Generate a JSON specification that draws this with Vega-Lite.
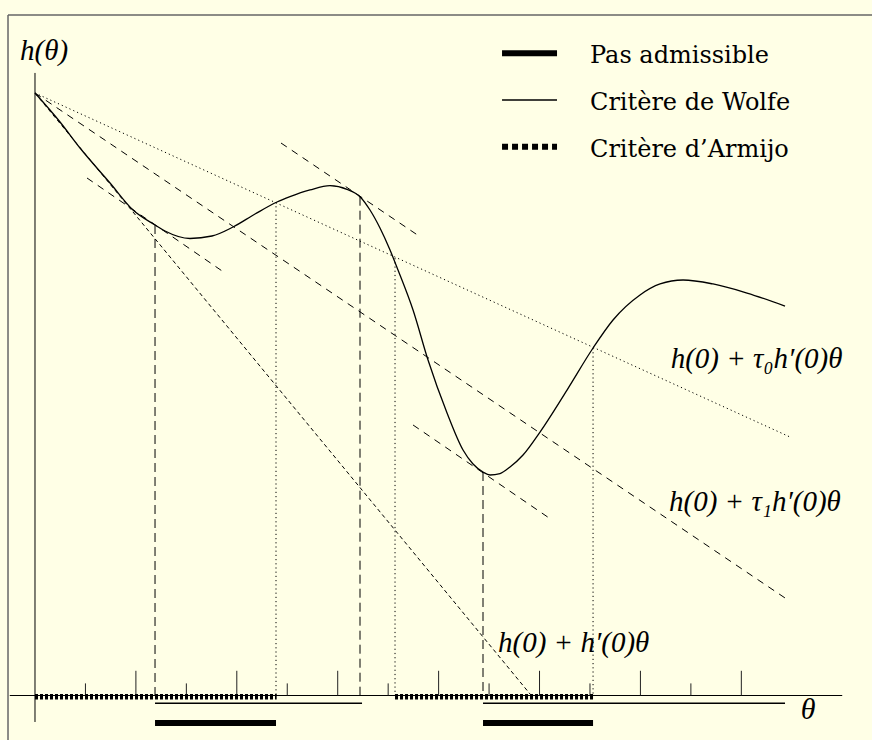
{
  "$schema": "https://vega.github.io/schema/vega-lite/v6.json",
  "width": 872,
  "height": 740,
  "autosize": {"type": "fit", "contains": "padding"},
  "padding": 0,
  "background": "#FFFFE6",
  "config": {"view": {"stroke": null}},
  "layer": [
    {
      "data": {"values": [
        {"x": -0.535, "y": 13.499, "x2": 17.5, "y2": 13.499},
        {"x": -0.535, "y": 13.499, "x2": -0.535, "y2": -1.5}
      ]},
      "mark": {"type": "rule", "color": "#666666", "strokeWidth": 1.5, "clip": true},
      "encoding": {
        "x": {"field": "x", "type": "quantitative", "axis": null, "scale": {"domain": [-0.6937, 16.59], "nice": false, "zero": false}},
        "y": {"field": "y", "type": "quantitative", "axis": null, "scale": {"domain": [-0.872, 13.796], "nice": false, "zero": false}},
        "x2": {"field": "x2"},
        "y2": {"field": "y2"}
      }
    },
    {
      "data": {"values": [
        {"x": -0.5, "y": 0.01, "x2": 16.0, "y2": 0.01},
        {"x": 0, "y": 12.35, "x2": 0, "y2": -0.515}
      ]},
      "mark": {"type": "rule", "color": "#000000", "strokeWidth": 1},
      "encoding": {
        "x": {"field": "x", "type": "quantitative", "axis": null, "scale": {"domain": [-0.6937, 16.59], "nice": false, "zero": false}},
        "y": {"field": "y", "type": "quantitative", "axis": null, "scale": {"domain": [-0.872, 13.796], "nice": false, "zero": false}},
        "x2": {"field": "x2"},
        "y2": {"field": "y2"}
      }
    },
    {
      "data": {"values": [
        {"t": 1, "b": 0.01, "len": 0.25}, {"t": 2, "b": 0.01, "len": 0.5}, {"t": 3, "b": 0.01, "len": 0.25}, {"t": 4, "b": 0.01, "len": 0.5},
        {"t": 5, "b": 0.01, "len": 0.25}, {"t": 6, "b": 0.01, "len": 0.5}, {"t": 7, "b": 0.01, "len": 0.25}, {"t": 8, "b": 0.01, "len": 0.5},
        {"t": 9, "b": 0.01, "len": 0.25}, {"t": 10, "b": 0.01, "len": 0.5}, {"t": 11, "b": 0.01, "len": 0.25}, {"t": 12, "b": 0.01, "len": 0.5},
        {"t": 13, "b": 0.01, "len": 0.25}, {"t": 14, "b": 0.01, "len": 0.5}
      ]},
      "mark": {"type": "rule", "color": "#222222", "strokeWidth": 1},
      "encoding": {
        "x": {"field": "t", "type": "quantitative", "axis": null, "scale": {"domain": [-0.6937, 16.59], "nice": false, "zero": false}},
        "y": {"field": "b", "type": "quantitative", "axis": null, "scale": {"domain": [-0.872, 13.796], "nice": false, "zero": false}},
        "y2": {"field": "len"}
      }
    },
    {
      "data": {"values": [
        {"t": 0, "h": 11.952}, {"t": 0.496, "h": 11.378}, {"t": 0.892, "h": 10.862},
        {"t": 1.487, "h": 10.169}, {"t": 1.943, "h": 9.633}, {"t": 2.379, "h": 9.336},
        {"t": 2.577, "h": 9.217}, {"t": 3.072, "h": 9.069}, {"t": 3.508, "h": 9.118},
        {"t": 3.925, "h": 9.296}, {"t": 4.361, "h": 9.554}, {"t": 4.797, "h": 9.792},
        {"t": 5.054, "h": 9.897}, {"t": 5.451, "h": 10.03}, {"t": 5.847, "h": 10.115},
        {"t": 6.184, "h": 10.044}, {"t": 6.442, "h": 9.897}, {"t": 6.64, "h": 9.633},
        {"t": 6.838, "h": 9.276}, {"t": 7.037, "h": 8.84}, {"t": 7.195, "h": 8.444},
        {"t": 7.493, "h": 7.651}, {"t": 7.79, "h": 6.66}, {"t": 8.167, "h": 5.61},
        {"t": 8.484, "h": 4.876}, {"t": 8.682, "h": 4.599}, {"t": 8.88, "h": 4.44},
        {"t": 9.019, "h": 4.381}, {"t": 9.217, "h": 4.41}, {"t": 9.415, "h": 4.539},
        {"t": 9.673, "h": 4.777}, {"t": 10.01, "h": 5.233}, {"t": 10.545, "h": 6.065},
        {"t": 11.061, "h": 6.898}, {"t": 11.457, "h": 7.453}, {"t": 11.992, "h": 7.949},
        {"t": 12.389, "h": 8.167}, {"t": 12.845, "h": 8.246}, {"t": 13.439, "h": 8.167},
        {"t": 14.113, "h": 7.988}, {"t": 14.866, "h": 7.73}
      ]},
      "mark": {"type": "line", "color": "#000000", "strokeWidth": 1.3, "interpolate": "monotone"},
      "encoding": {
        "x": {"field": "t", "type": "quantitative", "axis": null, "scale": {"domain": [-0.6937, 16.59], "nice": false, "zero": false}},
        "y": {"field": "h", "type": "quantitative", "axis": null, "scale": {"domain": [-0.872, 13.796], "nice": false, "zero": false}}
      }
    },
    {
      "data": {"values": [
        {"x": 0, "y": 11.952, "x2": 14.965, "y2": 5.134},
        {"x": 4.777, "y": 9.792, "x2": 4.777, "y2": 0},
        {"x": 7.136, "y": 8.68, "x2": 7.136, "y2": 0},
        {"x": 11.061, "y": 6.898, "x2": 11.061, "y2": 0}
      ]},
      "mark": {"type": "rule", "color": "#000000", "strokeWidth": 1, "strokeDash": [1.2, 3]},
      "encoding": {
        "x": {"field": "x", "type": "quantitative", "axis": null, "scale": {"domain": [-0.6937, 16.59], "nice": false, "zero": false}},
        "y": {"field": "y", "type": "quantitative", "axis": null, "scale": {"domain": [-0.872, 13.796], "nice": false, "zero": false}},
        "x2": {"field": "x2"},
        "y2": {"field": "y2"}
      }
    },
    {
      "data": {"values": [
        {"x": 0, "y": 11.952, "x2": 14.926, "y2": 1.903},
        {"x": 1.031, "y": 10.268, "x2": 3.766, "y2": 8.385},
        {"x": 4.876, "y": 10.961, "x2": 7.611, "y2": 9.118},
        {"x": 7.493, "y": 5.372, "x2": 10.248, "y2": 3.489}
      ]},
      "mark": {"type": "rule", "color": "#000000", "strokeWidth": 1, "strokeDash": [7, 6]},
      "encoding": {
        "x": {"field": "x", "type": "quantitative", "axis": null, "scale": {"domain": [-0.6937, 16.59], "nice": false, "zero": false}},
        "y": {"field": "y", "type": "quantitative", "axis": null, "scale": {"domain": [-0.872, 13.796], "nice": false, "zero": false}},
        "x2": {"field": "x2"},
        "y2": {"field": "y2"}
      }
    },
    {
      "data": {"values": [
        {"x": 2.379, "y": 9.336, "y2": 0},
        {"x": 6.442, "y": 9.897, "y2": 0},
        {"x": 8.88, "y": 4.44, "y2": 0}
      ]},
      "mark": {"type": "rule", "color": "#000000", "strokeWidth": 1, "strokeDash": [9, 5]},
      "encoding": {
        "x": {"field": "x", "type": "quantitative", "axis": null, "scale": {"domain": [-0.6937, 16.59], "nice": false, "zero": false}},
        "y": {"field": "y", "type": "quantitative", "axis": null, "scale": {"domain": [-0.872, 13.796], "nice": false, "zero": false}},
        "y2": {"field": "y2"}
      }
    },
    {
      "data": {"values": [
        {"x": 0, "y": 11.952, "x2": 9.812, "y2": 0.04}
      ]},
      "mark": {"type": "rule", "color": "#000000", "strokeWidth": 1, "strokeDash": [4, 3]},
      "encoding": {
        "x": {"field": "x", "type": "quantitative", "axis": null, "scale": {"domain": [-0.6937, 16.59], "nice": false, "zero": false}},
        "y": {"field": "y", "type": "quantitative", "axis": null, "scale": {"domain": [-0.872, 13.796], "nice": false, "zero": false}},
        "x2": {"field": "x2"},
        "y2": {"field": "y2"}
      }
    },
    {
      "data": {"values": [
        {"x": 0, "x2": 4.79, "y": -0.015},
        {"x": 7.136, "x2": 11.061, "y": -0.015}
      ]},
      "mark": {"type": "rule", "color": "#000000", "strokeWidth": 5.5, "strokeDash": [3, 2]},
      "encoding": {
        "x": {"field": "x", "type": "quantitative", "axis": null, "scale": {"domain": [-0.6937, 16.59], "nice": false, "zero": false}},
        "y": {"field": "y", "type": "quantitative", "axis": null, "scale": {"domain": [-0.872, 13.796], "nice": false, "zero": false}},
        "x2": {"field": "x2"}
      }
    },
    {
      "data": {"values": [
        {"x": 9.257, "x2": 10.347, "y": 10.888}
      ]},
      "mark": {"type": "rule", "color": "#000000", "strokeWidth": 6, "strokeDash": [6, 4]},
      "encoding": {
        "x": {"field": "x", "type": "quantitative", "axis": null, "scale": {"domain": [-0.6937, 16.59], "nice": false, "zero": false}},
        "y": {"field": "y", "type": "quantitative", "axis": null, "scale": {"domain": [-0.872, 13.796], "nice": false, "zero": false}},
        "x2": {"field": "x2"}
      }
    },
    {
      "data": {"values": [
        {"x": 2.379, "x2": 6.482, "y": -0.145},
        {"x": 8.88, "x2": 14.866, "y": -0.145},
        {"x": 9.257, "x2": 10.347, "y": 11.814}
      ]},
      "mark": {"type": "rule", "color": "#000000", "strokeWidth": 1.4},
      "encoding": {
        "x": {"field": "x", "type": "quantitative", "axis": null, "scale": {"domain": [-0.6937, 16.59], "nice": false, "zero": false}},
        "y": {"field": "y", "type": "quantitative", "axis": null, "scale": {"domain": [-0.872, 13.796], "nice": false, "zero": false}},
        "x2": {"field": "x2"}
      }
    },
    {
      "data": {"values": [
        {"x": 2.379, "x2": 4.777, "y": -0.535},
        {"x": 8.88, "x2": 11.061, "y": -0.535},
        {"x": 9.257, "x2": 10.347, "y": 12.739}
      ]},
      "mark": {"type": "rule", "color": "#000000", "strokeWidth": 6},
      "encoding": {
        "x": {"field": "x", "type": "quantitative", "axis": null, "scale": {"domain": [-0.6937, 16.59], "nice": false, "zero": false}},
        "y": {"field": "y", "type": "quantitative", "axis": null, "scale": {"domain": [-0.872, 13.796], "nice": false, "zero": false}},
        "x2": {"field": "x2"}
      }
    },
    {
      "data": {"values": [
        {"x": 11.001, "y": 12.541, "label": "Pas admissible"},
        {"x": 11.001, "y": 11.616, "label": "Critère de Wolfe"},
        {"x": 11.001, "y": 10.69, "label": "Critère d’Armijo"}
      ]},
      "mark": {"type": "text", "font": "DejaVu Serif", "fontSize": 24, "align": "left", "baseline": "alphabetic", "color": "#000000"},
      "encoding": {
        "x": {"field": "x", "type": "quantitative", "axis": null, "scale": {"domain": [-0.6937, 16.59], "nice": false, "zero": false}},
        "y": {"field": "y", "type": "quantitative", "axis": null, "scale": {"domain": [-0.872, 13.796], "nice": false, "zero": false}},
        "text": {"field": "label"}
      }
    },
    {
      "data": {"values": [
        {"x": 12.6, "y": 6.502, "label": "h(0) + τ₀h′(0)θ"},
        {"x": 12.567, "y": 3.667, "label": "h(0) + τ₁h′(0)θ"},
        {"x": 9.177, "y": 0.878, "label": "h(0) + h′(0)θ"},
        {"x": -0.297, "y": 12.607, "label": "h(θ)"}
      ]},
      "mark": {"type": "text", "font": "Liberation Serif", "fontStyle": "italic", "fontSize": 29, "align": "left", "baseline": "alphabetic", "color": "#000000"},
      "encoding": {
        "x": {"field": "x", "type": "quantitative", "axis": null, "scale": {"domain": [-0.6937, 16.59], "nice": false, "zero": false}},
        "y": {"field": "y", "type": "quantitative", "axis": null, "scale": {"domain": [-0.872, 13.796], "nice": false, "zero": false}},
        "text": {"field": "label"}
      }
    },
    {
      "data": {"values": [
        {"x": 15.322, "y": -0.456, "label": "θ"}
      ]},
      "mark": {"type": "text", "font": "Liberation Serif", "fontStyle": "italic", "fontSize": 30, "align": "center", "baseline": "alphabetic", "color": "#000000"},
      "encoding": {
        "x": {"field": "x", "type": "quantitative", "axis": null, "scale": {"domain": [-0.6937, 16.59], "nice": false, "zero": false}},
        "y": {"field": "y", "type": "quantitative", "axis": null, "scale": {"domain": [-0.872, 13.796], "nice": false, "zero": false}},
        "text": {"field": "label"}
      }
    }
  ]
}
